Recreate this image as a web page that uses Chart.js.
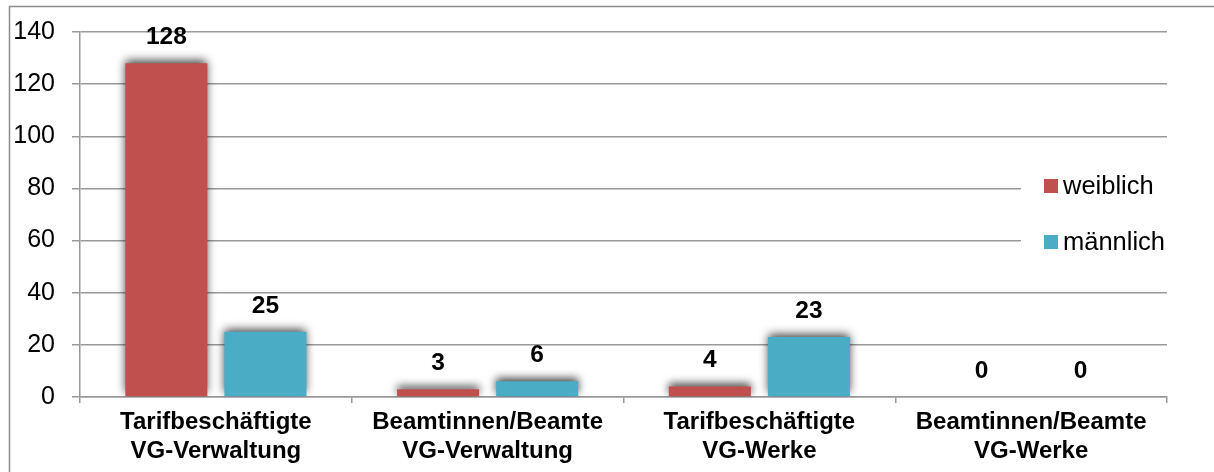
<!DOCTYPE html>
<html>
<head>
<meta charset="utf-8">
<script src="https://cdn.jsdelivr.net/npm/chart.js@4/dist/chart.umd.min.js"></script>
<style>
  html, body { margin: 0; padding: 0; background: #ffffff; }
  #wrap { width: 1214px; height: 472px; position: relative; }
</style>
</head>
<body>
<div id="wrap"><canvas id="c" width="1214" height="472"></canvas></div>
<script>
// Beschäftigte nach Geschlecht und Beschäftigungsgruppe
const categories = [
  ["Tarifbeschäftigte", "VG-Verwaltung"],
  ["Beamtinnen/Beamte", "VG-Verwaltung"],
  ["Tarifbeschäftigte", "VG-Werke"],
  ["Beamtinnen/Beamte", "VG-Werke"]
];
const weiblich = [128, 3, 4, 0];
const maennlich = [25, 6, 23, 0];
const seriesNames = ["weiblich", "männlich"];
const seriesColors = ["#C0504D", "#4BACC6"];
const yTicks = [0, 20, 40, 60, 80, 100, 120, 140];

const FONT = "'Liberation Sans', Arial, sans-serif";
const GRID = "#999999";

// Rahmen um das gesamte Diagramm
const framePlugin = {
  id: "frame",
  beforeDraw(chart) {
    const c = chart.ctx;
    c.save();
    c.fillStyle = "#ffffff";
    c.fillRect(0, 0, chart.width, chart.height);
    c.strokeStyle = "#8c8c8c";
    c.lineWidth = 1.5;
    c.beginPath();
    c.moveTo(9.5, chart.height + 2);
    c.lineTo(9.5, 6.5);
    c.lineTo(chart.width + 2, 6.5);
    c.stroke();
    c.restore();
  }
};

// Weicher Schatten hinter den Säulen
const shadowPlugin = {
  id: "barShadow",
  beforeDatasetsDraw(chart) {
    const c = chart.ctx;
    c.save();
    c.shadowColor = "rgba(0,0,0,0.75)";
    c.shadowBlur = 9;
    c.shadowOffsetX = 0;
    c.shadowOffsetY = -3;
  },
  afterDatasetsDraw(chart) {
    chart.ctx.restore();
  }
};

// Werte über den Säulen
const valueLabelPlugin = {
  id: "valueLabels",
  afterDatasetsDraw(chart) {
    const c = chart.ctx;
    c.save();
    c.font = "bold 24.5px " + FONT;
    c.fillStyle = "#000000";
    c.textAlign = "center";
    c.textBaseline = "middle";
    chart.data.datasets.forEach((ds, i) => {
      const meta = chart.getDatasetMeta(i);
      meta.data.forEach((bar, j) => {
        c.fillText(String(ds.data[j]), bar.x, bar.y - 26);
      });
    });
    c.restore();
  }
};

// Legende rechts im Diagrammbereich
const legendPlugin = {
  id: "sideLegend",
  afterDraw(chart) {
    const c = chart.ctx;
    const y = chart.scales.y;
    c.save();
    c.fillStyle = "#ffffff";
    c.fillRect(1021, y.getPixelForValue(90), 160, y.getPixelForValue(50) - y.getPixelForValue(90));
    c.font = "25.5px " + FONT;
    c.textBaseline = "middle";
    c.textAlign = "left";
    const rows = [186, 242];
    chart.data.datasets.forEach((ds, i) => {
      c.fillStyle = ds.backgroundColor;
      c.fillRect(1044, rows[i] - 7, 14, 14);
      c.fillStyle = "#000000";
      c.fillText(ds.label, 1063, rows[i] + 1);
    });
    c.restore();
  }
};

new Chart(document.getElementById("c"), {
  type: "bar",
  data: {
    labels: categories,
    datasets: [
      { label: seriesNames[0], data: weiblich, backgroundColor: seriesColors[0] },
      { label: seriesNames[1], data: maennlich, backgroundColor: seriesColors[1] }
    ]
  },
  options: {
    responsive: false,
    animation: false,
    devicePixelRatio: 1,
    categoryPercentage: 0.729,
    barPercentage: 0.828,
    layout: { padding: { top: 32, right: 47, left: 0, bottom: 0 } },
    plugins: {
      legend: { display: false },
      tooltip: { enabled: false },
      title: { display: false }
    },
    scales: {
      x: {
        grid: {
          display: true,
          drawOnChartArea: false,
          drawTicks: true,
          tickLength: 6,
          color: GRID,
          lineWidth: 1.5,
          offset: true
        },
        border: { display: true, color: GRID, width: 1.5 },
        ticks: {
          color: "#000000",
          font: { family: FONT, size: 24, weight: "bold", lineHeight: 1.2 },
          padding: 5,
          maxRotation: 0,
          autoSkip: false
        },
        afterFit(s) { s.height = 75; }
      },
      y: {
        min: yTicks[0],
        max: yTicks[yTicks.length - 1],
        afterBuildTicks(s) { s.ticks = yTicks.map(v => ({ value: v })); },
        grid: { color: GRID, lineWidth: 1.5, tickLength: 8, drawTicks: true },
        border: { display: true, color: GRID, width: 1.5 },
        ticks: {
          color: "#000000",
          font: { family: FONT, size: 25 },
          padding: 17
        },
        afterFit(s) { s.width = 80; }
      }
    }
  },
  plugins: [framePlugin, shadowPlugin, valueLabelPlugin, legendPlugin]
});
</script>
</body>
</html>
